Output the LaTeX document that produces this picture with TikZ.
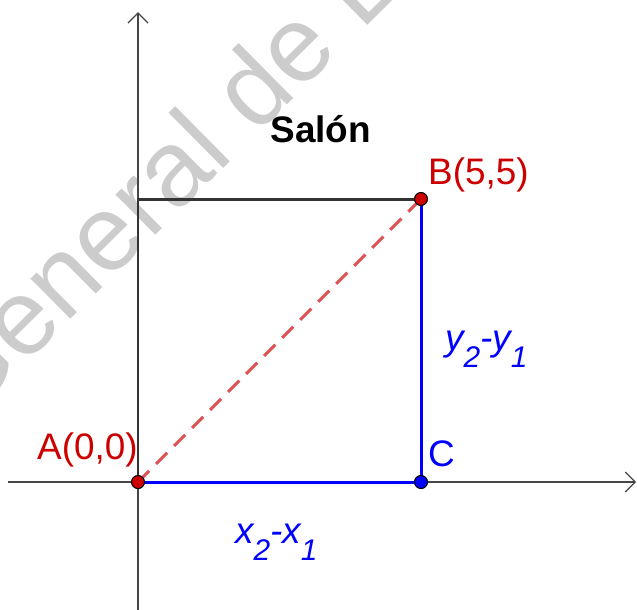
\documentclass[tikz,border=0pt]{standalone}
\usepackage{fontspec}
\setmainfont{Liberation Sans}
\usepackage{xcolor}
\usepackage{tikz}
\usetikzlibrary{arrows.meta, calc, positioning}

\definecolor{rojo}{RGB}{204,0,0}
\definecolor{rojoclaro}{RGB}{221,82,82}
\definecolor{azul}{RGB}{0,0,255}
\definecolor{marca}{RGB}{204,204,204}
\definecolor{ejes}{RGB}{70,70,70}
\newcommand{\sbi}[1]{\raisebox{-10pt}{\fontsize{17}{17}\selectfont #1}}

\begin{document}
\begin{tikzpicture}[x=1.132cm, y=1.132cm,
    eje/.style={ejes, line width=0.7pt, -{Straight Barb[length=2mm,width=4mm]}},
    lado/.style={black!80, line width=1.7pt},
    dif/.style={azul, line width=1.7pt},
    diag/.style={rojoclaro, line width=1.7pt, dash pattern=on 9pt off 5.5pt},
    punto/.style={circle, draw=black, line width=0.6pt, minimum size=0.26cm, inner sep=0pt},
    etiq/.style={inner sep=0pt, font=\fontsize{21}{21}\selectfont}]
    \useasboundingbox (-2.438,-2.244) rectangle (8.816,8.516);

    % sello de agua
    \begin{scope}
        \clip (-2.438,-2.244) rectangle (8.816,8.516);
        \node[marca, rotate=44.7, anchor=base west, inner sep=0pt,
              font=\fontsize{61}{61}\selectfont] (sello) at (-3.08,1.005) {General de B};
    \end{scope}

    % ejes
    \coordinate (xi) at (-2.30,0);
    \coordinate (xf) at (8.80,0);
    \coordinate (yi) at (0,-2.30);
    \coordinate (yf) at (0,8.30);
    \draw[eje] (xi) -- (xf);
    \draw[eje] (yi) -- (yf);

    % vertices
    \coordinate (A) at (0,0);
    \coordinate (B) at (5,5);
    \coordinate (C) at (5,0);
    \coordinate (D) at (0,5);

    \draw[lado] (A) -- (D) -- (B);
    \draw[dif] (A) -- (C) -- (B);
    \draw[diag] (A) -- (B);

    \node[punto, fill=rojo] (pA) at (A) {};
    \node[punto, fill=rojo] (pB) at (B) {};
    \node[punto, fill=azul] (pC) at (C) {};

    % textos
    \node[font=\bfseries\fontsize{21}{21}\selectfont, anchor=base, inner sep=0pt] (salon) at (3.23,5.99) {Salón};
    \node[etiq, rojo, anchor=base west] (lB) at ($(B)+(0.12,0.25)$) {B(5,5)};
    \node[etiq, rojo, anchor=base east] (lA) at ($(A)+(0,0.39)$) {A(0,0)};
    \node[etiq, azul, anchor=base west] (lC) at ($(C)+(0.12,0.27)$) {C};
    \node[etiq, azul, anchor=base west] (dy) at ($(C)!0.5!(B)+(0.42,-0.17)$) {\itshape y\sbi{2}-y\sbi{1}};
    \node[etiq, azul, anchor=base west] (dx) at ($(A)!0.5!(C)+(-0.79,-1.08)$) {\itshape x\sbi{2}-x\sbi{1}};
\end{tikzpicture}
\end{document}
